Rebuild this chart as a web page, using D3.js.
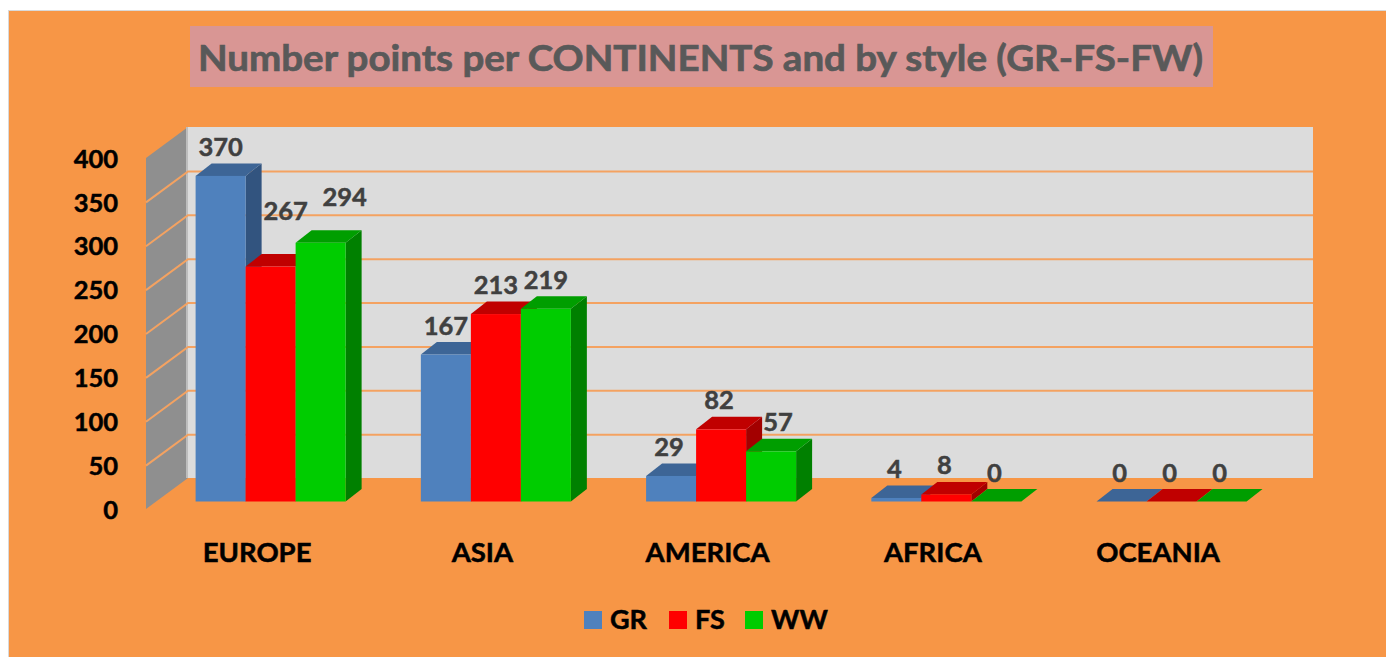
<!DOCTYPE html>
<html><head><meta charset="utf-8">
<script src="https://cdn.jsdelivr.net/npm/d3@7"></script>
<style>html,body{margin:0;padding:0;background:#fff;overflow:hidden}svg{display:block}text{font-family:Lato,"Open Sans",sans-serif;font-weight:700}</style>
</head><body><svg id="c" width="1386" height="657"></svg>
<script>
const titleText = "Number points per CONTINENTS and by style (GR-FS-FW)";
const categories = ["EUROPE","ASIA","AMERICA","AFRICA","OCEANIA"];
const seriesNames = ["GR","FS","WW"];
const GR = [370,167,29,4,0];
const FS = [267,213,82,8,0];
const WW = [294,219,57,0,0];
const yTicks = [0,50,100,150,200,250,300,350,400];

const seriesValues = [GR,FS,WW];
const faces = [
  {front:"#4f81bd",top:"#3d6596",side:"#32547f"},
  {front:"#ff0000",top:"#c00000",side:"#a30000"},
  {front:"#00cc00",top:"#009e00",side:"#008000"}
];
const svg = d3.select("#c");
const DX = 16, DY = -12.5, WX = 42, WY = -31;

svg.append("rect").attr("x",8).attr("y",10).attr("width",1378).attr("height",647).attr("fill","#d9d9d9");
svg.append("rect").attr("x",9).attr("y",11).attr("width",1377).attr("height",646).attr("fill","#f79646");

svg.append("rect").attr("x",190).attr("y",26).attr("width",1023).attr("height",61).attr("fill","#d99694");
svg.append("text").attr("x",700.5).attr("y",71).attr("text-anchor","middle").attr("font-size",37)
  .attr("fill","#595959").attr("stroke","#595959").attr("stroke-width",0.7)
  .attr("textLength",1005).attr("lengthAdjust","spacingAndGlyphs").text(titleText);

const yWall = d3.scaleLinear().domain([0,400]).range([509,158]);
const yBar = d3.scaleLinear().domain([0,400]).range([501.5,149.5]);
const x0 = d3.scaleBand().domain(categories).range([158,1284.2]).paddingInner(0.334).paddingOuter(0.167);
const x1 = d3.scaleBand().domain(seriesNames).range([0,x0.bandwidth()]);
const wallLeft = 146;

// side wall and back wall
svg.append("path").attr("fill","#8f8f8f")
  .attr("d",d3.line()([[wallLeft,yWall(0)],[wallLeft+WX,yWall(0)+WY],[wallLeft+WX,yWall(400)+WY],[wallLeft,yWall(400)]]));
svg.append("rect").attr("x",wallLeft+WX).attr("y",yWall(400)+WY)
  .attr("width",1313-wallLeft-WX).attr("height",yWall(0)-yWall(400)).attr("fill","#dcdcdc");
svg.append("rect").attr("x",wallLeft+WX-2).attr("y",yWall(400)+WY)
  .attr("width",2).attr("height",yWall(0)-yWall(400)).attr("fill","#bdbdbd");

// gridlines
svg.append("g").selectAll("path").data(yTicks.filter(t=>t>0 && t<400)).join("path")
  .attr("fill","none").attr("stroke","#f4a261").attr("stroke-width",2)
  .attr("transform","translate(0,0.5)")
  .attr("d",t=>d3.line()([[wallLeft,yWall(t)],[wallLeft+WX,yWall(t)+WY],[1313,yWall(t)+WY]]));

// y axis
const yAxis = svg.append("g").attr("transform","translate(126,1)")
  .call(d3.axisLeft(yWall).tickValues(yTicks).tickSize(0).tickPadding(8));
yAxis.select(".domain").remove();
yAxis.selectAll("text").attr("font-size",25.5).attr("fill","#000").attr("stroke","#000").attr("stroke-width",0.5)
  .style("font-family","Lato").style("font-weight",700);

// category labels
svg.append("g").selectAll("text").data(categories).join("text")
  .attr("x",c=>x0(c)+x0.bandwidth()/2-13.5).attr("y",562).attr("text-anchor","middle")
  .attr("font-size",27.5).attr("fill","#000").attr("stroke","#000").attr("stroke-width",0.5).text(c=>c);

// bars
const poly = d3.line();
categories.forEach((c,ci)=>{
  seriesNames.forEach((s,si)=>{
    const v = seriesValues[si][ci], f = faces[si];
    const l = x0(c)+x1(s), r = l+x1.bandwidth(), t = yBar(v), b = yBar(0);
    const g = svg.append("g");
    g.append("path").attr("fill",f.side).attr("d",poly([[r,t],[r+DX,t+DY],[r+DX,b+DY],[r,b]])+"Z");
    g.append("path").attr("fill",f.top).attr("d",poly([[l,t],[l+DX,t+DY],[r+DX,t+DY],[r,t]])+"Z");
    g.append("rect").attr("x",l).attr("y",t).attr("width",x1.bandwidth()).attr("height",b-t).attr("fill",f.front);
  });
});

// data labels (two labels in Europe and one in America were moved by hand in the original)
const labelNudge = {"EUROPE|FS":[15,-27],"EUROPE|WW":[24,-17],"AMERICA|WW":[9,0]};
categories.forEach((c,ci)=>{
  seriesNames.forEach((s,si)=>{
    const v = seriesValues[si][ci];
    const n = labelNudge[c+"|"+s] || [0,0];
    const shift = ci>=2 ? -2 : 0;
    svg.append("text")
      .attr("x",x0(c)+x1(s)+x1.bandwidth()/2+n[0]+shift)
      .attr("y",yBar(v)-29+n[1]+9)
      .attr("text-anchor","middle").attr("font-size",25.5).attr("fill","#404040")
      .attr("stroke","#404040").attr("stroke-width",0.5).text(v);
  });
});

// legend
const legendX = d3.scaleOrdinal().domain(seriesNames).range([584,669,745]);
const lg = svg.append("g").selectAll("g").data(seriesNames).join("g")
  .attr("transform",s=>`translate(${legendX(s)},611)`);
lg.append("rect").attr("width",18).attr("height",18).attr("fill",(s,i)=>faces[i].front);
lg.append("text").attr("x",26).attr("y",18).attr("font-size",27).attr("fill","#000")
  .attr("stroke","#000").attr("stroke-width",0.5).text(s=>s);
</script></body></html>
